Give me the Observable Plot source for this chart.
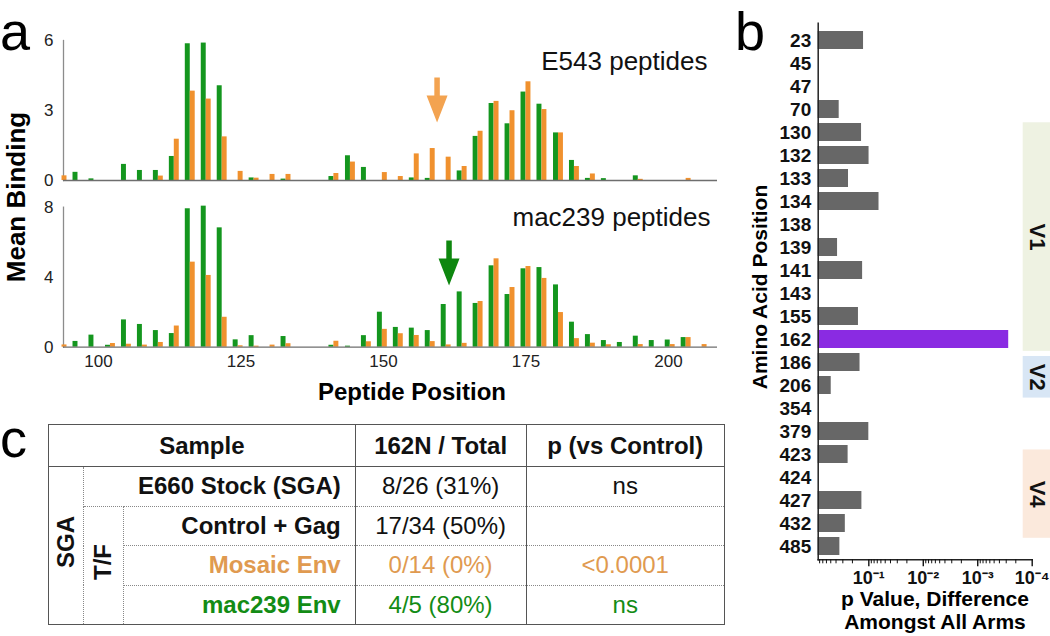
<!DOCTYPE html>
<html><head><meta charset="utf-8">
<script src="https://cdn.jsdelivr.net/npm/d3@7"></script>
<script src="https://cdn.jsdelivr.net/npm/@observablehq/plot@0.6"></script>
<style>
html,body{margin:0;padding:0;background:#fff;}
#root{position:relative;width:1050px;height:636px;overflow:hidden;font-family:'Liberation Sans',Arial,Helvetica,sans-serif;color:#111;}
.abs{position:absolute;}
.letter{position:absolute;font-size:54px;line-height:54px;height:54px;color:#000;}
.rot{position:absolute;text-align:center;transform:rotate(-90deg);font-weight:bold;white-space:nowrap;color:#000;}
.title{position:absolute;text-align:center;font-weight:bold;white-space:nowrap;color:#000;}
#tbl{position:absolute;left:48px;top:424px;border-collapse:collapse;table-layout:fixed;width:676px;border:1.5px solid #555;font-size:24px;color:#111;}
#tbl td,#tbl th{padding:0;vertical-align:middle;white-space:nowrap;overflow:visible;}
#tbl th{font-weight:bold;height:41px;border-bottom:1.5px solid #555;text-align:center;}
#tbl td{height:38.5px;}
#tbl .cD,#tbl .cE{border-left:1.5px solid #555;text-align:center;}
#tbl .name{text-align:right;padding-right:14px;font-weight:bold;}
#tbl .dotb{border-bottom:1px dotted #888;}
#tbl .vcell{border-right:1px dotted #888;text-align:center;font-weight:bold;}
#tbl .vtext{writing-mode:vertical-rl;transform:rotate(180deg);display:inline-block;}
</style></head>
<body>
<div id="root">
  <div class="letter" style="left:0px;top:3.5px">a</div>
  <div class="letter" style="left:735px;top:3.5px">b</div>
  <div class="letter" style="left:0px;top:411px">c</div>
  <div id="pa1" class="abs" style="left:0;top:0"></div>
  <div id="pa2" class="abs" style="left:0;top:190px"></div>
  <div id="pbo" class="abs" style="left:730px;top:0"></div>
  <div id="pb" class="abs" style="left:730px;top:0"></div>
  <div class="rot" style="left:-114px;top:182px;width:260px;height:30px;line-height:30px;font-size:26px">Mean Binding</div>
  <div class="title" style="left:262px;top:380px;width:300px;font-size:24px;line-height:24px">Peptide Position</div>
  <div class="rot" style="left:630px;top:274px;width:260px;height:26px;line-height:26px;font-size:21px">Amino Acid Position</div>
  <div class="title" style="left:815px;top:588px;width:240px;font-size:21px;line-height:22.5px">p Value, Difference<br>Amongst All Arms</div>
  <table id="tbl"></table>
</div>
<script>
// ---------- Panel a data ----------
const peptidePositions = [93.6, 96.4, 99.2, 102.1, 104.9, 107.7, 110.5, 113.3, 116.1, 118.9,
  121.7, 124.5, 127.3, 130.1, 132.9, 135.7, 138.5, 141.3, 144.2, 147.0,
  149.8, 152.6, 155.4, 158.2, 161.0, 163.8, 166.6, 169.4, 172.2, 175.0,
  177.8, 180.7, 183.5, 186.3, 189.1, 191.9, 194.7, 197.5, 200.3, 203.1, 205.9];
const e543Green = [0, 0.35, 0.07, 0, 0.69, 0.43, 0.43, 1.03, 5.86, 5.89,
  4.06, 0, 0.11, 0, 0.06, 0, 0, 0.17, 1.06, 0.56,
  0, 0, 0.11, 0.09, 0, 0.41, 1.89, 3.30, 2.43, 3.79,
  3.27, 2.04, 0.86, 0.09, 0.08, 0, 0.2, 0, 0, 0, 0];
const e543Orange = [0.2, 0, 0, 0, 0, 0, 0.19, 1.77, 3.83, 3.49,
  1.87, 0.39, 0.1, 0.26, 0.26, 0, 0, 0.3, 0.79, 0,
  0.34, 0.17, 1.14, 1.37, 1.0, 0.6, 2.11, 3.39, 2.99, 4.23,
  3.04, 2.04, 0.6, 0.28, 0, 0, 0.05, 0, 0, 0.09, 0];
const mac239Green = [0, 0.33, 0.69, 0.11, 1.56, 1.30, 0.95, 0.78, 7.91, 8.06,
  6.82, 0.42, 0.66, 0, 0.61, 0, 0, 0.11, 0.06, 0.66,
  2.0, 1.13, 1.09, 0.95, 2.44, 3.16, 2.50, 4.65, 3.01, 4.48,
  4.55, 3.56, 1.43, 0.72, 0.38, 0.27, 0.63, 0.38, 0.41, 0.55, 0];
const mac239Orange = [0.13, 0, 0, 0.21, 0.17, 0.12, 0.27, 1.21, 4.86, 4.10,
  1.71, 0.08, 0.06, 0.12, 0.2, 0, 0, 0.34, 0, 0.31,
  1.02, 0.77, 0.67, 0.32, 0.13, 0.22, 2.61, 5.05, 3.41, 4.61,
  3.93, 1.98, 0.49, 0.23, 0.14, 0, 0.15, 0, 0.15, 0.55, 0.15];
const peptideTicks = [100, 125, 150, 175, 200];
const e543Ticks = [0, 3, 6];
const mac239Ticks = [0, 4, 8];
const e543Label = "E543 peptides";
const mac239Label = "mac239 peptides";
const e543Arrow = [{x: 159.4, tip: 2.49}];
const mac239Arrow = [{x: 161.5, tip: 3.53}];

// ---------- Panel b data ----------
const aaPositions = ["23","45","47","70","130","132","133","134","138","139","141","143","155","162","186","206","354","379","423","424","427","432","485"];
const pValues = [0.125, null, null, 0.35, 0.136, 0.099, 0.236, 0.065, null, 0.375, 0.13, null, 0.155, 0.00027, 0.145, 0.49, null, 0.1, 0.24, null, 0.134, 0.27, 0.34];
const highlightPosition = "162";
const pTicks = [1e-1, 1e-2, 1e-3, 1e-4];
const pTickLabels = ["10\u207B\u00B9", "10\u207B\u00B2", "10\u207B\u00B3", "10\u207B\u2074"];
const regionLabels = ["V1", "V2", "V4"];
const regionFirst = ["130", "186", "423"];
const regionLast = ["162", "206", "432"];
const regionColors = ["#eef2e2", "#d8e6f5", "#fbe9dc"];

// ---------- Panel c data ----------
const tableHeader = ["Sample", "162N / Total", "p (vs Control)"];
const sampleNames = ["E660 Stock (SGA)", "Control + Gag", "Mosaic Env", "mac239 Env"];
const sampleCounts = ["8/26 (31%)", "17/34 (50%)", "0/14 (0%)", "4/5 (80%)"];
const samplePValues = ["ns", "", "<0.0001", "ns"];
const sampleColors = ["#111", "#111", "#e09a50", "#138c15"];
const outerGroup = "SGA";
const innerGroup = "T/F";

// ---------- styles ----------
const FONT = "'Liberation Sans', Arial, Helvetica, sans-serif";
const GREEN = "#14961e", ORANGE = "#f0912e";
const ARROW_ORANGE = "#f3a350", ARROW_GREEN = "#0e870f";
const GRAY = "#676767", PURPLE = "#8a2be2";
const xDomain = [93.86, 208.6];
const BW = 0.87;

const downArrow = {draw(ctx) {
  ctx.moveTo(-2.75, -45); ctx.lineTo(2.75, -45); ctx.lineTo(2.75, -27);
  ctx.lineTo(10.5, -27); ctx.lineTo(0, 0); ctx.lineTo(-10.5, -27);
  ctx.lineTo(-2.75, -27); ctx.closePath();
}};

function bindingPlot(greenVals, orangeVals, yTicks, label, arrowData, arrowColor, o) {
  const rows = peptidePositions.map((x, i) => ({x, g: greenVals[i], o: orangeVals[i]}));
  const marks = [
    Plot.frame({anchor: "left", stroke: "#8c8c8c", strokeWidth: 1.3}),
    Plot.rectY(rows.filter(d => d.g > 0), {x1: d => d.x - BW, x2: d => d.x, y1: 0, y2: "g", fill: GREEN}),
    Plot.rectY(rows.filter(d => d.o > 0), {x1: d => d.x, x2: d => d.x + BW, y1: 0, y2: "o", fill: ORANGE}),
    Plot.ruleY([0], {stroke: "#6e6e6e", strokeWidth: 1.3}),
    Plot.axisY({ticks: yTicks, tickFormat: d => String(d), tickSize: 0, tickPadding: 10, fontSize: 17, label: null}),
    Plot.text([label], {frameAnchor: "top-right", textAnchor: "end", lineAnchor: "bottom", dx: o.labelDx, dy: o.labelDy, fontSize: 26, fill: "#111"}),
    Plot.dot(arrowData, {x: "x", y: "tip", symbol: downArrow, fill: arrowColor, stroke: "none"})
  ];
  if (o.showX) marks.push(Plot.axisX({ticks: peptideTicks, tickFormat: d => String(d), tickSize: 0, tickPadding: 8, fontSize: 17, label: null}));
  return Plot.plot({
    width: 730, height: o.height, marginTop: o.top, marginBottom: o.bottom, marginLeft: 63, marginRight: 13,
    style: {background: "transparent", fontFamily: FONT, fontSize: "17px", color: "#222", overflow: "visible"},
    x: o.showX ? {domain: xDomain} : {domain: xDomain, axis: null},
    y: {domain: [0, yTicks[yTicks.length - 1]]},
    marks
  });
}

document.getElementById("pa1").append(bindingPlot(e543Green, e543Orange, e543Ticks, e543Label, e543Arrow, ARROW_ORANGE,
  {height: 188, top: 40, bottom: 8, labelDx: -10, labelDy: 29, showX: false}));
document.getElementById("pa2").append(bindingPlot(mac239Green, mac239Orange, mac239Ticks, mac239Label, mac239Arrow, ARROW_GREEN,
  {height: 230, top: 16.7, bottom: 73.3, labelDx: -7, labelDy: 19, showX: true}));

// Panel b
const pDomain = [0.85, 1e-4];
const minorTicks = [];
for (const e of pTicks) for (const m of [2,3,4,5,6,7,8,9]) { const v = m * e; if (v < pDomain[0] && v > pDomain[1]) minorTicks.push(v); }
const bData = aaPositions.map((aa, i) => ({aa, p: pValues[i]})).filter(d => d.p != null);

document.getElementById("pb").append(Plot.plot({
  width: 320, height: 636, marginLeft: 87.7, marginRight: 18.3, marginTop: 22.7, marginBottom: 76.7,
  style: {background: "transparent", fontFamily: FONT, color: "#111", overflow: "visible"},
  x: {type: "log", domain: pDomain},
  y: {type: "band", domain: aaPositions, paddingInner: 0.2, paddingOuter: 0, insetTop: 3.75},
  marks: [
    Plot.barX(bData, {y: "aa", x1: pDomain[0], x2: "p", fill: d => d.aa === highlightPosition ? PURPLE : GRAY}),
    Plot.frame({anchor: "left", stroke: "#222", strokeWidth: 1.5}),
    Plot.frame({anchor: "bottom", stroke: "#222", strokeWidth: 1.5}),
    Plot.axisY({tickSize: 0, tickPadding: 7, fontSize: 19, fontWeight: "bold", label: null, fill: "#111"}),
    Plot.axisX({ticks: pTicks, tickFormat: d => pTickLabels[pTicks.indexOf(d)], tickSize: 7, tickPadding: 4, fontSize: 18, fontWeight: "bold", label: null, strokeWidth: 1.4, fill: "#111"}),
    Plot.axisX({ticks: minorTicks, tickSize: 4, tickFormat: () => "", label: null, strokeWidth: 1})
  ]
}));

const regions = regionLabels.map((label, i) => {
  const y1 = aaPositions.indexOf(regionFirst[i]) - 0.3;
  const y2 = aaPositions.indexOf(regionLast[i]) + 0.48;
  return {label, y1, y2, mid: (y1 + y2) / 2, color: regionColors[i]};
});
document.getElementById("pbo").append(Plot.plot({
  width: 320, height: 636, marginLeft: 292.7, marginRight: 0, marginTop: 22.7, marginBottom: 76.7,
  style: {background: "transparent", fontFamily: FONT, color: "#111", overflow: "visible"},
  x: {domain: [0, 1], axis: null},
  y: {domain: [-0.5606, 22.4], reverse: true, axis: null},
  marks: [
    Plot.rect(regions, {x1: 0, x2: 1, y1: "y1", y2: "y2", fill: d => d.color}),
    Plot.text(regions, {x: 0.5, y: "mid", text: "label", rotate: 90, fontSize: 22, fontWeight: "bold", fill: "#111"})
  ]
}));

// Panel c table
const tbl = document.getElementById("tbl");
let html = '<colgroup><col style="width:34.8px"><col style="width:40.2px"><col style="width:231.7px"><col style="width:170.8px"><col style="width:198.5px"></colgroup>';
html += `<tr><th colspan="3">${tableHeader[0]}</th><th class="cD">${tableHeader[1]}</th><th class="cE">${tableHeader[2]}</th></tr>`;
const esc = s => s.replace(/&/g, "&amp;").replace(/</g, "&lt;");
sampleNames.forEach((name, i) => {
  const c = sampleColors[i];
  const dot = i < sampleNames.length - 1 ? " dotb" : "";
  let row = "<tr>";
  if (i === 0) row += `<td rowspan="${sampleNames.length}" class="vcell"><span class="vtext">${outerGroup}</span></td>`;
  if (i === 1) row += `<td rowspan="${sampleNames.length - 1}" class="vcell"><span class="vtext">${innerGroup}</span></td>`;
  row += `<td ${i === 0 ? 'colspan="2"' : ""} class="name${dot}" style="color:${c}">${esc(name)}</td>`;
  row += `<td class="cD${dot}" style="color:${c}">${esc(sampleCounts[i])}</td>`;
  row += `<td class="cE${dot}" style="color:${c}">${esc(samplePValues[i])}</td>`;
  row += "</tr>";
  html += row;
});
tbl.innerHTML = html;
</script>
</body></html>
